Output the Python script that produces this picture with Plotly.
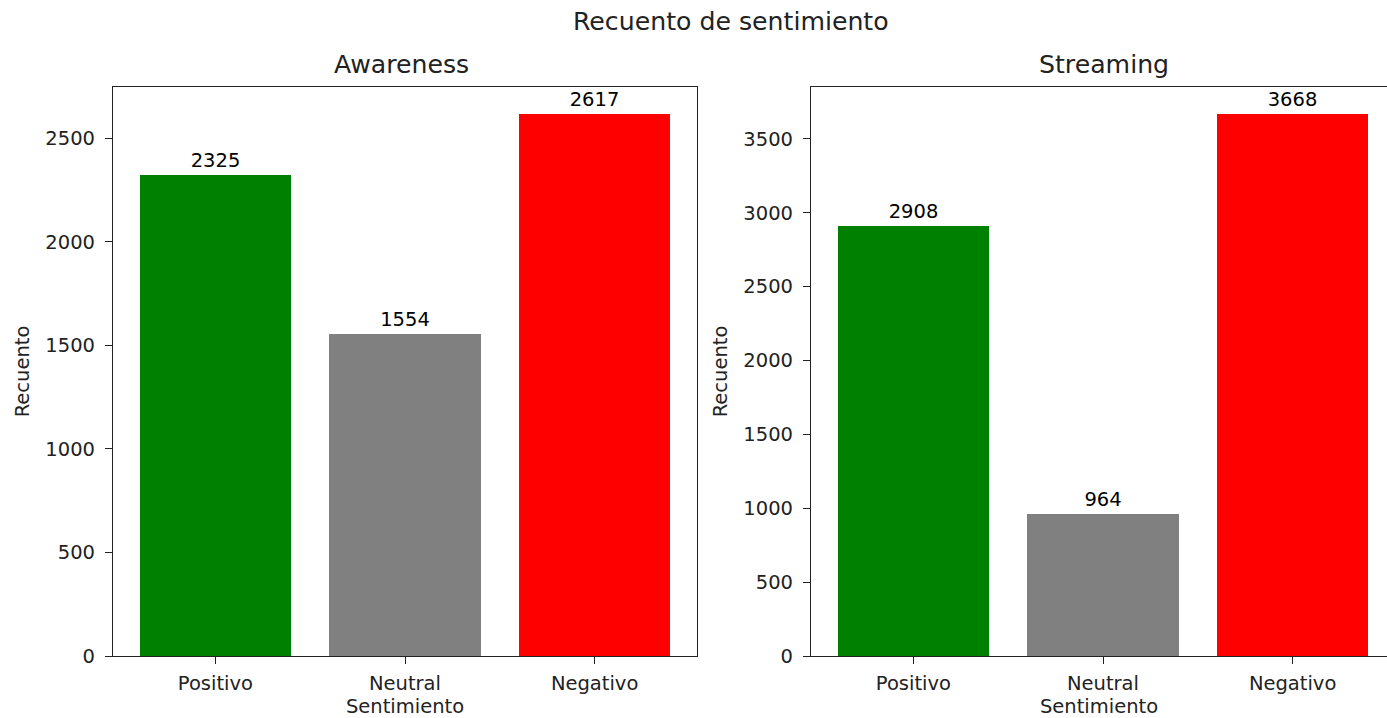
import plotly.graph_objects as go

categories = ["Positivo", "Neutral", "Negativo"]
awareness_counts = [2325, 1554, 2617]
streaming_counts = [2908, 964, 3668]
bar_colors = ["green", "gray", "red"]
aw_ticks = [0, 500, 1000, 1500, 2000, 2500]
st_ticks = [0, 500, 1000, 1500, 2000, 2500, 3000, 3500]

W, H = 1387, 718
FONT = "DejaVu Sans"
TICK = 19.5
TITLE = 25.2

def px(x):
    return x / W

def py(y):
    return 1 - y / H

fig = go.Figure()
fig.add_trace(go.Bar(x=[0, 1, 2], y=awareness_counts, marker_color=bar_colors,
                     marker_line_width=0, width=0.8,
                     text=[str(v) for v in awareness_counts], textposition="outside",
                     textfont=dict(family=FONT, size=TICK, color="black"),
                     cliponaxis=False, xaxis="x", yaxis="y", showlegend=False))
fig.add_trace(go.Bar(x=[0, 1, 2], y=streaming_counts, marker_color=bar_colors,
                     marker_line_width=0, width=0.8,
                     text=[str(v) for v in streaming_counts], textposition="outside",
                     textfont=dict(family=FONT, size=TICK, color="black"),
                     cliponaxis=False, xaxis="x2", yaxis="y2", showlegend=False))

axis_common = dict(showline=True, linecolor="#222", linewidth=1.2, ticks="outside",
                   ticklen=7, tickcolor="#222", tickwidth=1.2, showgrid=False,
                   zeroline=False, automargin=False,
                   tickfont=dict(family=FONT, size=TICK, color="#222"))

x_left = (113, 697)
x_right = (811, 1395)
y_dom = [py(656), py(87)]
xr = [-0.54, 2.54]
upp = (xr[1] - xr[0]) / (x_right[1] - x_right[0])
xr2 = [xr[0], xr[0] + upp * (W - x_right[0])]

xt = dict(text="Sentimiento", font=dict(family=FONT, size=TICK, color="#222"), standoff=6)
yt = dict(text="Recuento", font=dict(family=FONT, size=TICK, color="#222"), standoff=10)

fig.update_layout(
    width=W, height=H, margin=dict(l=0, r=0, t=0, b=0),
    plot_bgcolor="white", paper_bgcolor="white",
    font=dict(family=FONT, color="#222"),
    bargap=0,
    xaxis=dict(axis_common, domain=[px(x_left[0]), px(x_left[1])], range=xr, mirror=True,
               tickvals=[0, 1, 2], ticktext=categories, anchor="y", ticklabelstandoff=2,
               title=xt),
    yaxis=dict(axis_common, domain=y_dom, range=[0, 2617 * 1.05], mirror=True,
               tickvals=aw_ticks, anchor="x", ticklabelstandoff=6, title=yt),
    xaxis2=dict(axis_common, domain=[px(x_right[0]), 1.0], range=xr2, mirror=True,
                tickvals=[0, 1, 2], ticktext=categories, anchor="y2", ticklabelstandoff=2,
                title=xt),
    yaxis2=dict(axis_common, domain=y_dom, range=[0, 3668 * 1.05], mirror=False,
                tickvals=st_ticks, anchor="x2", ticklabelstandoff=6, title=yt),
    annotations=[
        dict(text="Recuento de sentimiento", x=px(731), y=py(22), xref="paper", yref="paper",
             showarrow=False, xanchor="center", yanchor="middle",
             font=dict(family=FONT, size=TITLE, color="#222")),
        dict(text="Awareness", x=px(401), y=py(65), xref="paper", yref="paper",
             showarrow=False, xanchor="center", yanchor="middle",
             font=dict(family=FONT, size=TITLE, color="#222")),
        dict(text="Streaming", x=px(1104), y=py(65), xref="paper", yref="paper",
             showarrow=False, xanchor="center", yanchor="middle",
             font=dict(family=FONT, size=TITLE, color="#222")),
    ],
)

fig.write_html("out.html", config={"displayModeBar": False},
               post_script="document.body.style.margin='0';document.body.style.overflow='hidden';")
